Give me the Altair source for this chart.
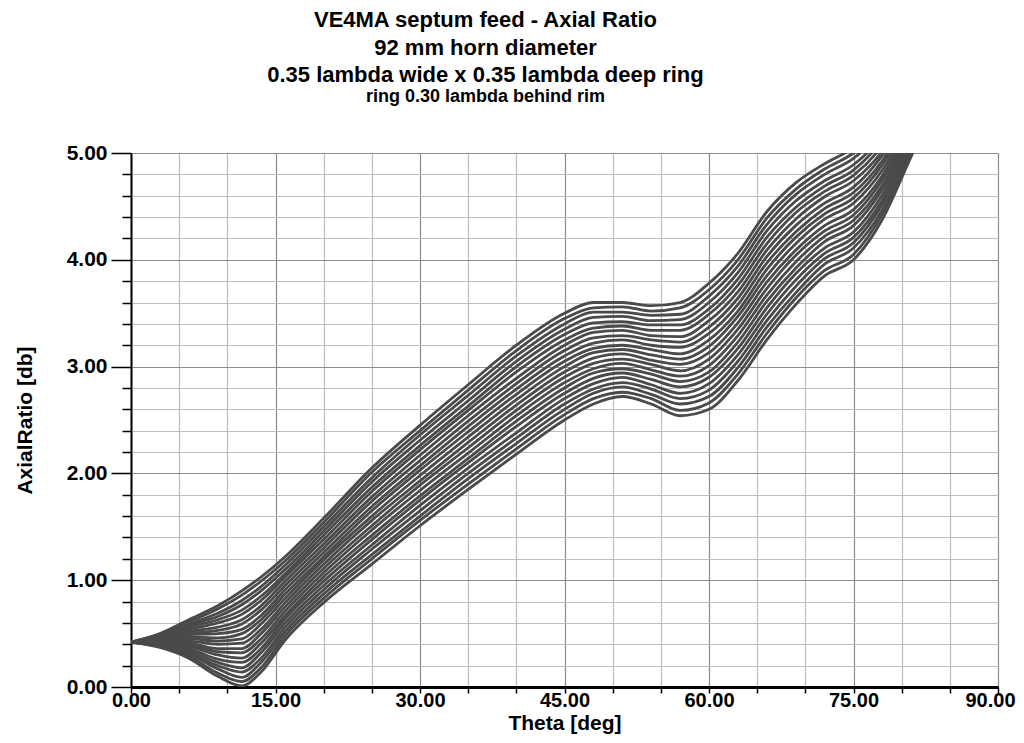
import altair as alt
import pandas as pd

# Theta sample positions (deg)
theta_deg = [0, 3, 6, 9, 11.5, 13.5, 16, 20, 25, 30, 35, 40, 45, 48, 51, 54, 57, 60, 63, 66, 69, 72, 75, 78, 81, 84]

# Axial ratio curves (dB), lowest to highest
ar_00 = [0.42, 0.37, 0.27, 0.10, 0.01, 0.14, 0.44, 0.79, 1.15, 1.51, 1.85, 2.18, 2.50, 2.65, 2.72, 2.65, 2.54, 2.60, 2.87, 3.25, 3.58, 3.85, 4.00, 4.38, 4.97, 5.55]
ar_01 = [0.42, 0.38, 0.29, 0.13, 0.05, 0.18, 0.48, 0.83, 1.20, 1.56, 1.90, 2.23, 2.55, 2.70, 2.76, 2.70, 2.59, 2.66, 2.93, 3.31, 3.64, 3.90, 4.05, 4.43, 5.01, 5.58]
ar_02 = [0.42, 0.38, 0.31, 0.17, 0.09, 0.23, 0.52, 0.87, 1.24, 1.60, 1.95, 2.28, 2.60, 2.75, 2.81, 2.74, 2.65, 2.72, 2.99, 3.37, 3.69, 3.96, 4.11, 4.47, 5.04, 5.62]
ar_03 = [0.42, 0.39, 0.32, 0.20, 0.14, 0.27, 0.56, 0.91, 1.29, 1.65, 2.00, 2.33, 2.65, 2.79, 2.85, 2.79, 2.70, 2.78, 3.05, 3.43, 3.75, 4.01, 4.16, 4.52, 5.08, 5.65]
ar_04 = [0.42, 0.40, 0.34, 0.23, 0.18, 0.32, 0.60, 0.95, 1.33, 1.70, 2.05, 2.38, 2.70, 2.84, 2.90, 2.83, 2.75, 2.84, 3.11, 3.49, 3.81, 4.06, 4.21, 4.56, 5.12, 5.68]
ar_05 = [0.42, 0.40, 0.36, 0.26, 0.23, 0.36, 0.64, 0.99, 1.38, 1.75, 2.10, 2.44, 2.75, 2.89, 2.94, 2.88, 2.81, 2.90, 3.17, 3.55, 3.87, 4.11, 4.26, 4.61, 5.15, 5.71]
ar_06 = [0.42, 0.41, 0.38, 0.30, 0.27, 0.41, 0.67, 1.03, 1.42, 1.79, 2.14, 2.49, 2.80, 2.94, 2.98, 2.93, 2.86, 2.95, 3.23, 3.61, 3.92, 4.17, 4.32, 4.66, 5.19, 5.75]
ar_07 = [0.42, 0.42, 0.40, 0.33, 0.32, 0.45, 0.71, 1.07, 1.47, 1.84, 2.19, 2.54, 2.85, 2.98, 3.03, 2.97, 2.91, 3.01, 3.29, 3.67, 3.98, 4.22, 4.37, 4.70, 5.23, 5.78]
ar_08 = [0.42, 0.42, 0.41, 0.36, 0.36, 0.50, 0.75, 1.11, 1.51, 1.89, 2.24, 2.59, 2.90, 3.03, 3.07, 3.02, 2.96, 3.07, 3.35, 3.73, 4.04, 4.27, 4.42, 4.75, 5.26, 5.81]
ar_09 = [0.42, 0.43, 0.43, 0.40, 0.41, 0.54, 0.79, 1.15, 1.56, 1.93, 2.29, 2.64, 2.95, 3.08, 3.12, 3.06, 3.02, 3.13, 3.41, 3.79, 4.09, 4.32, 4.47, 4.79, 5.30, 5.84]
ar_10 = [0.42, 0.44, 0.45, 0.43, 0.45, 0.59, 0.83, 1.19, 1.60, 1.98, 2.34, 2.69, 3.00, 3.13, 3.16, 3.11, 3.07, 3.19, 3.47, 3.85, 4.15, 4.38, 4.53, 4.84, 5.34, 5.88]
ar_11 = [0.42, 0.44, 0.47, 0.46, 0.50, 0.63, 0.87, 1.22, 1.65, 2.03, 2.39, 2.74, 3.05, 3.17, 3.20, 3.16, 3.12, 3.25, 3.52, 3.91, 4.21, 4.43, 4.58, 4.89, 5.37, 5.91]
ar_12 = [0.42, 0.45, 0.49, 0.50, 0.54, 0.67, 0.91, 1.26, 1.69, 2.07, 2.44, 2.79, 3.10, 3.22, 3.25, 3.20, 3.18, 3.31, 3.58, 3.97, 4.26, 4.48, 4.63, 4.93, 5.41, 5.94]
ar_13 = [0.42, 0.45, 0.50, 0.53, 0.59, 0.72, 0.95, 1.30, 1.74, 2.12, 2.49, 2.84, 3.15, 3.27, 3.29, 3.25, 3.23, 3.37, 3.64, 4.03, 4.32, 4.53, 4.68, 4.98, 5.44, 5.97]
ar_14 = [0.42, 0.46, 0.52, 0.56, 0.63, 0.76, 0.99, 1.34, 1.78, 2.17, 2.54, 2.89, 3.20, 3.32, 3.34, 3.29, 3.28, 3.43, 3.70, 4.09, 4.38, 4.59, 4.74, 5.02, 5.48, 6.01]
ar_15 = [0.42, 0.47, 0.54, 0.60, 0.68, 0.81, 1.03, 1.38, 1.83, 2.22, 2.59, 2.95, 3.25, 3.36, 3.38, 3.34, 3.34, 3.49, 3.76, 4.15, 4.44, 4.64, 4.79, 5.07, 5.52, 6.04]
ar_16 = [0.42, 0.47, 0.56, 0.63, 0.72, 0.85, 1.06, 1.42, 1.87, 2.26, 2.63, 3.00, 3.30, 3.41, 3.42, 3.39, 3.39, 3.54, 3.82, 4.21, 4.49, 4.69, 4.84, 5.12, 5.55, 6.07]
ar_17 = [0.42, 0.48, 0.58, 0.66, 0.77, 0.90, 1.10, 1.46, 1.92, 2.31, 2.68, 3.05, 3.35, 3.46, 3.47, 3.43, 3.44, 3.60, 3.88, 4.27, 4.55, 4.74, 4.89, 5.16, 5.59, 6.10]
ar_18 = [0.42, 0.49, 0.59, 0.69, 0.81, 0.94, 1.14, 1.50, 1.96, 2.36, 2.73, 3.10, 3.40, 3.51, 3.51, 3.48, 3.49, 3.66, 3.94, 4.33, 4.61, 4.80, 4.95, 5.21, 5.63, 6.14]
ar_19 = [0.42, 0.49, 0.61, 0.73, 0.86, 0.99, 1.18, 1.54, 2.01, 2.40, 2.78, 3.15, 3.45, 3.55, 3.56, 3.52, 3.55, 3.72, 4.00, 4.39, 4.66, 4.85, 5.00, 5.25, 5.66, 6.17]
ar_20 = [0.42, 0.50, 0.63, 0.76, 0.90, 1.03, 1.22, 1.58, 2.05, 2.45, 2.83, 3.20, 3.50, 3.60, 3.60, 3.57, 3.60, 3.78, 4.06, 4.45, 4.72, 4.90, 5.05, 5.30, 5.70, 6.20]

curves = [ar_00, ar_01, ar_02, ar_03, ar_04, ar_05, ar_06, ar_07, ar_08, ar_09, ar_10,
          ar_11, ar_12, ar_13, ar_14, ar_15, ar_16, ar_17, ar_18, ar_19, ar_20]

# Axis tick positions
x_ticks = [0, 5, 10, 15, 20, 25, 30, 35, 40, 45, 50, 55, 60, 65, 70, 75, 80, 85, 90]
y_ticks = [0.0, 0.2, 0.4, 0.6, 0.8, 1.0, 1.2, 1.4, 1.6, 1.8, 2.0, 2.2, 2.4, 2.6, 2.8,
           3.0, 3.2, 3.4, 3.6, 3.8, 4.0, 4.2, 4.4, 4.6, 4.8, 5.0]

title_lines = ["VE4MA septum feed - Axial Ratio", "92 mm horn diameter",
               "0.35 lambda wide x 0.35 lambda deep ring"]
subtitle_line = "ring 0.30 lambda behind rim"

rows = []
for i, vals in enumerate(curves):
    for t, v in zip(theta_deg, vals):
        rows.append({"curve": i, "theta": t, "ar": v})
df = pd.DataFrame(rows)

FONT = "Liberation Sans"
MAJOR_Y = "abs(datum.value - round(datum.value)) < 0.001"

x_axis = alt.Axis(
    values=x_ticks,
    title="Theta [deg]",
    labelExpr="datum.value % 15 === 0 ? format(datum.value, '.2f') : ''",
    labelFont=FONT, labelFontSize=20, labelFontWeight="bold", labelColor="black",
    labelPadding=-3, labelFlush=False, labelOverlap=False,
    labelOffset={"condition": {"test": "datum.value === 90", "value": -8}, "value": 0},
    tickSize=6, tickColor="black", tickWidth=1.5,
    domainColor="black", domainWidth=3,
    grid=True,
    gridColor={"condition": {"test": "datum.value % 15 === 0", "value": "#8c8c8c"}, "value": "#bdbdbd"},
    gridWidth=1.2,
    titleFont=FONT, titleFontSize=21, titleFontWeight="bold", titleColor="black",
    titlePadding=2,
)

y_axis = alt.Axis(
    values=y_ticks,
    title="AxialRatio [db]",
    labelExpr=MAJOR_Y + " ? format(datum.value, '.2f') : ''",
    labelFont=FONT, labelFontSize=21, labelFontWeight="bold", labelColor="black",
    labelPadding=4, labelOverlap=False, labelFlush=False,
    tickSize={"condition": {"test": MAJOR_Y, "value": 20}, "value": 9},
    tickColor="black", tickWidth=1.5,
    domainColor="black", domainWidth=2,
    grid=True,
    gridColor={"condition": {"test": MAJOR_Y, "value": "#8c8c8c"}, "value": "#bdbdbd"},
    gridWidth=1.2,
    titleFont=FONT, titleFontSize=21, titleFontWeight="bold", titleColor="black",
    titlePadding=31,
)

chart = alt.Chart(df).mark_line(
    interpolate="monotone", clip=True, strokeWidth=2.8, color="#4a4a4a"
).encode(
    x=alt.X("theta:Q", scale=alt.Scale(domain=[0, 90], nice=False, zero=False), axis=x_axis),
    y=alt.Y("ar:Q", scale=alt.Scale(domain=[0, 5], nice=False, zero=False), axis=y_axis),
    detail="curve:N",
).properties(
    width=867,
    height=534,
    padding={"left": 123, "top": 145, "right": 18, "bottom": 47},
    autosize=alt.AutoSizeParams(type="none"),
    title=alt.TitleParams(
        text=title_lines,
        subtitle=subtitle_line,
        font=FONT, fontSize=22, fontWeight="bold", color="black", lineHeight=27.5,
        subtitleFont="Liberation Sans Narrow, Liberation Sans", subtitleFontSize=18,
        subtitleFontWeight="bold", subtitleColor="black", subtitlePadding=1,
        anchor="middle", dx=-79, offset=35,
    ),
).configure_view(
    stroke="black", strokeWidth=1.5
).configure(background="white")

chart.save("out.html", embed_options={"renderer": "svg", "actions": False})
